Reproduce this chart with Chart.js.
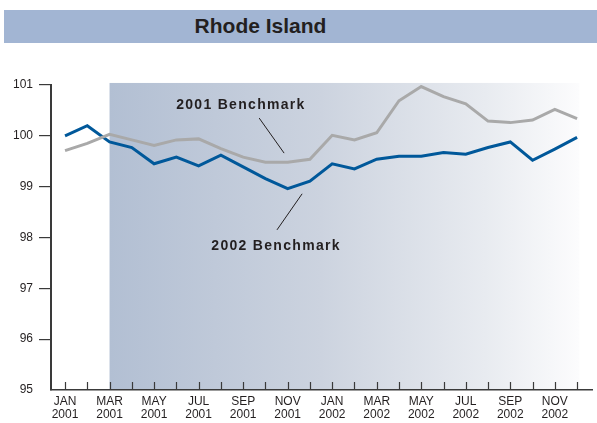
<!DOCTYPE html>
<html>
<head>
<meta charset="utf-8">
<title>Rhode Island</title>
<script src="https://cdn.jsdelivr.net/npm/chart.js@4.4.1/dist/chart.umd.min.js"></script>
<style>
    html, body { margin: 0; padding: 0; background: #fff; }
    #wrap { position: relative; width: 597px; height: 423px; font-family: "Liberation Sans", Arial, sans-serif; }
    #title {
        position: absolute; left: 4px; top: 10px; width: 593px; height: 33px;
        background: #a2b5d3; color: #231f20; font-weight: bold; font-size: 21px;
        line-height: 31px; text-align: center; box-sizing: border-box; padding-right: 80px;
    }
    #chart { position: absolute; left: 0; top: 0; }
</style>
</head>
<body>
<div id="wrap">
    <canvas id="chart" width="597" height="423"></canvas>
    <div id="title">Rhode Island</div>
</div>
<script>
// ---------- Data ----------

const monthIndex = [0, 1, 2, 3, 4, 5, 6, 7, 8, 9, 10, 11, 12, 13, 14, 15, 16, 17, 18, 19, 20, 21, 22, 23];

const xTickLabels = [
    ['JAN', '2001'], '', ['MAR', '2001'], '', ['MAY', '2001'], '', ['JUL', '2001'], '',
    ['SEP', '2001'], '', ['NOV', '2001'], '', ['JAN', '2002'], '', ['MAR', '2002'], '',
    ['MAY', '2002'], '', ['JUL', '2002'], '', ['SEP', '2002'], '', ['NOV', '2002'], ''
];

const yTicks = [95, 96, 97, 98, 99, 100, 101];

const benchmark2001 = [
    99.71, 99.85, 100.03, 99.92, 99.81, 99.92, 99.94, 99.75, 99.58, 99.48, 99.48, 99.54,
    100.01, 99.92, 100.06, 100.69, 100.97, 100.77, 100.63, 100.29, 100.26, 100.31, 100.52, 100.34
];

const benchmark2002 = [
    100.00, 100.20, 99.88, 99.77, 99.45, 99.58, 99.41, 99.62, 99.39, 99.16, 98.96, 99.11,
    99.45, 99.35, 99.54, 99.60, 99.60, 99.67, 99.64, 99.77, 99.88, 99.52, 99.74, 99.97
];

const seriesNames = ['2001 Benchmark', '2002 Benchmark'];

// ---------- Styling ----------

const INK = '#231f20';
const AXIS = '#3a3a3a';
const BLUE = '#00589a';
const GRAY = '#a9a9a9';

// shaded band (in data units) and annotation anchors (in data units)
const shade = { from: 2, to: 23.1, top: 101.04 };
const notes = [
    { text: seriesNames[0], x: 7.9, y: 100.61, line: [8.72, 100.35, 9.84, 99.66] },
    { text: seriesNames[1], x: 9.48, y: 97.83, line: [10.65, 98.86, 9.52, 98.15] }
];

// ---------- Plugins ----------

const shadePlugin = {
    id: 'shade',
    beforeDraw(chart) {
        const { ctx, scales: { x, y } } = chart;
        const x0 = x.getPixelForValue(shade.from);
        const x1 = x.getPixelForValue(shade.to);
        const y0 = y.getPixelForValue(shade.top);
        const y1 = y.getPixelForValue(95);
        const grad = ctx.createLinearGradient(x0, 0, x1, 0);
        grad.addColorStop(0, '#b2bfd3');
        grad.addColorStop(0.45, '#ccd3df');
        grad.addColorStop(0.8, '#e8ebf0');
        grad.addColorStop(1, '#fcfcfd');
        ctx.save();
        ctx.fillStyle = grad;
        ctx.fillRect(x0, y0, x1 - x0, y1 - y0);
        ctx.restore();
    }
};

const notesPlugin = {
    id: 'notes',
    afterDraw(chart) {
        const { ctx, scales: { x, y } } = chart;
        ctx.save();

        // inward month ticks on the x axis
        const base = y.getPixelForValue(95);
        ctx.strokeStyle = AXIS;
        ctx.lineWidth = 1.2;
        monthIndex.forEach(i => {
            const px = Math.round(x.getPixelForValue(i)) + 0.5;
            ctx.beginPath();
            ctx.moveTo(px, base);
            ctx.lineTo(px, base - 8);
            ctx.stroke();
        });

        // series labels with leader lines
        ctx.font = 'bold 14px "Liberation Sans", Arial, sans-serif';
        ctx.letterSpacing = '1.3px';
        ctx.fillStyle = INK;
        ctx.textAlign = 'center';
        ctx.textBaseline = 'middle';
        ctx.lineWidth = 1;
        ctx.strokeStyle = INK;
        notes.forEach(n => {
            ctx.fillText(n.text, x.getPixelForValue(n.x), y.getPixelForValue(n.y));
            const [ax, ay, bx, by] = n.line;
            ctx.beginPath();
            ctx.moveTo(x.getPixelForValue(ax), y.getPixelForValue(ay));
            ctx.lineTo(x.getPixelForValue(bx), y.getPixelForValue(by));
            ctx.stroke();
        });
        ctx.restore();
    }
};

// ---------- Chart ----------

function toPoints(values) {
    return values.map((v, i) => ({ x: monthIndex[i], y: v }));
}

function makeDataset(label, values, color) {
    return {
        label,
        data: toPoints(values),
        borderColor: color,
        borderWidth: 3,
        pointRadius: 0,
        tension: 0,
        fill: false,
        borderJoinStyle: 'miter'
    };
}

new Chart(document.getElementById('chart'), {
    type: 'line',
    data: {
        datasets: [
            makeDataset(seriesNames[0], benchmark2001, GRAY),
            makeDataset(seriesNames[1], benchmark2002, BLUE)
        ]
    },
    options: {
        responsive: false,
        animation: false,
        layout: { padding: { top: 85, right: 5, bottom: 0, left: 0 } },
        plugins: {
            legend: { display: false },
            tooltip: { enabled: false }
        },
        scales: {
            x: {
                type: 'linear',
                min: -0.63,
                max: 23.67,
                afterBuildTicks: scale => {
                    scale.ticks = monthIndex.map(v => ({ value: v }));
                },
                afterFit: scale => { scale.height = 33; },
                ticks: {
                    autoSkip: false,
                    maxRotation: 0,
                    padding: 5,
                    color: INK,
                    font: { family: '"Liberation Sans", Arial, sans-serif', size: 12, lineHeight: 1.1 },
                    callback: (value, index) => xTickLabels[index]
                },
                grid: { display: false, drawTicks: false },
                border: { color: AXIS, width: 1.5 }
            },
            y: {
                min: yTicks[0],
                max: yTicks[yTicks.length - 1],
                afterBuildTicks: scale => {
                    scale.ticks = yTicks.map(v => ({ value: v }));
                },
                afterFit: scale => { scale.width = 51; },
                ticks: {
                    padding: 6,
                    color: INK,
                    font: { family: '"Liberation Sans", Arial, sans-serif', size: 12 }
                },
                grid: {
                    drawOnChartArea: false,
                    tickLength: 12,
                    lineWidth: 1.2,
                    color: ctx => (ctx.tick && ctx.tick.value === yTicks[0]) ? 'rgba(0,0,0,0)' : AXIS
                },
                border: { color: AXIS, width: 2 }
            }
        }
    },
    plugins: [shadePlugin, notesPlugin]
});
</script>
</body>
</html>
